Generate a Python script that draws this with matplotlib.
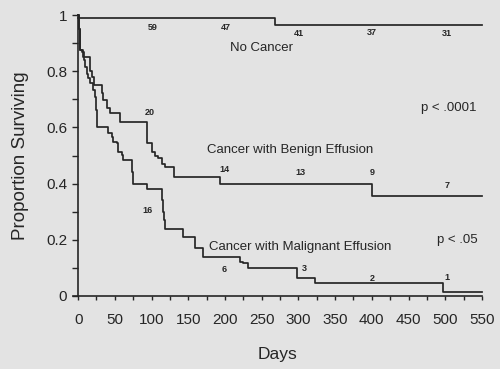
import matplotlib
matplotlib.use("Agg")
import matplotlib.pyplot as plt
from matplotlib.ticker import MultipleLocator

plt.rcParams['font.family'] = ['Liberation Sans', 'DejaVu Sans']

# Step curves (day, proportion after step)
no_cancer_days = [0, 268, 550]
no_cancer_surv = [0.99, 0.964, 0.964]

benign_days = [0, 1, 2, 3, 7, 16, 18.6, 21, 30, 32, 34.5, 39, 43.6, 57, 94.3, 100, 105, 109, 114, 118, 130, 193, 400, 550]
benign_surv = [1.0, 0.95, 0.91, 0.875, 0.852, 0.80, 0.78, 0.751, 0.751, 0.721, 0.697, 0.668, 0.65, 0.62, 0.543, 0.514, 0.50, 0.49, 0.47, 0.458, 0.425, 0.40, 0.357, 0.357]

malignant_days = [0, 1, 2, 3, 5, 7.3, 9.5, 11.8, 14, 16.3, 20.9, 23, 24.5, 25.4, 41.3, 45.8, 48, 52.6, 54.9, 59.4, 61.7, 73, 75, 93.4, 114, 115, 117, 118.5, 143.4, 159, 170.6, 220.5, 225, 232, 297.7, 322.7, 496.5, 550]
malignant_surv = [1.0, 0.95, 0.91, 0.875, 0.87, 0.84, 0.816, 0.79, 0.775, 0.757, 0.733, 0.709, 0.662, 0.60, 0.579, 0.567, 0.549, 0.543, 0.514, 0.502, 0.484, 0.442, 0.40, 0.38, 0.34, 0.30, 0.27, 0.24, 0.209, 0.17, 0.14, 0.122, 0.116, 0.098, 0.065, 0.047, 0.015, 0.015]

# numbers at risk: (label, day, y)
risk_no_cancer = [("59", 102, 0.955), ("47", 201, 0.955), ("41", 301, 0.935), ("37", 400, 0.937), ("31", 502, 0.933)]
risk_benign = [("20", 98, 0.655), ("14", 199, 0.45), ("13", 303, 0.44), ("9", 400, 0.44), ("7", 502, 0.395)]
risk_malignant = [("16", 95, 0.306), ("6", 199, 0.093), ("3", 308, 0.097), ("2", 401, 0.063), ("1", 502, 0.066)]

x_ticks = [0, 50, 100, 150, 200, 250, 300, 350, 400, 450, 500, 550]
y_ticks = [0, 0.2, 0.4, 0.6, 0.8, 1.0]
y_tick_labels = ["0", "0.2", "0.4", "0.6", "0.8", "1"]

bg = "#e3e3e3"
lc = "#262626"

fig = plt.figure(figsize=(5.0, 3.69), dpi=100, facecolor=bg)
ax = fig.add_axes([0.146, 0.198, 0.818, 0.761])
ax.set_facecolor(bg)

for d, s in [(no_cancer_days, no_cancer_surv), (benign_days, benign_surv), (malignant_days, malignant_surv)]:
    ax.step(d, s, where='post', color=lc, lw=1.25, clip_on=False)

for grp in (risk_no_cancer, risk_benign, risk_malignant):
    for t, x, y in grp:
        ax.text(x, y, t, fontsize=6.5, ha='center', va='center', color=lc, fontweight='bold')

ax.text(250, 0.882, "No Cancer", fontsize=9.5, ha='center', va='center', color=lc)
ax.text(289, 0.52, "Cancer with Benign Effusion", fontsize=9.5, ha='center', va='center', color=lc)
ax.text(302, 0.176, "Cancer with Malignant Effusion", fontsize=9.5, ha='center', va='center', color=lc)
ax.text(505, 0.67, "p < .0001", fontsize=9.5, ha='center', va='center', color=lc)
ax.text(517, 0.20, "p < .05", fontsize=9.5, ha='center', va='center', color=lc)

ax.set_xlim(-7, 550)
ax.set_ylim(0, 1.0)
ax.spines['left'].set_position(('data', 0))
ax.spines['top'].set_visible(False)
ax.spines['right'].set_visible(False)
for sp in ('left', 'bottom'):
    ax.spines[sp].set_color(lc)
    ax.spines[sp].set_linewidth(1.2)

ax.set_xticks(x_ticks)
ax.set_xticklabels([str(v) for v in x_ticks])
ax.xaxis.set_minor_locator(MultipleLocator(25))
ax.set_yticks(y_ticks)
ax.set_yticklabels(y_tick_labels)
ax.yaxis.set_minor_locator(MultipleLocator(0.1))
ax.tick_params(axis='both', which='both', direction='out', color=lc, labelcolor=lc, labelsize=11)
ax.tick_params(axis='x', which='both', length=3, width=1, pad=9)
ax.tick_params(axis='y', which='both', length=4, width=1, pad=4)

ax.set_xlabel("Days", fontsize=12.5, color=lc, labelpad=15)
ax.set_ylabel("Proportion Surviving", fontsize=13.5, color=lc, labelpad=12)

fig.savefig("out.png", dpi=100, facecolor=bg)
